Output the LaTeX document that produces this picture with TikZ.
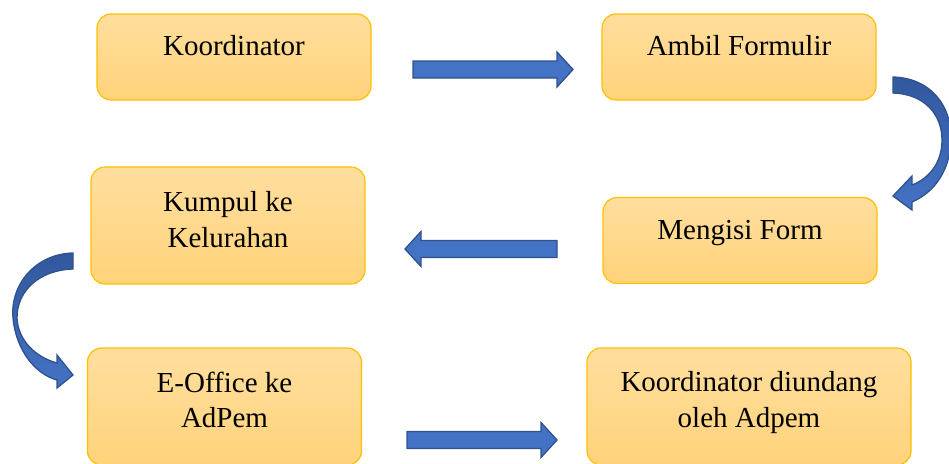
\documentclass[tikz,border=0pt]{standalone}
\usepackage{fontspec}
\setmainfont{Liberation Serif}
\usetikzlibrary{calc}

\definecolor{boxtop}{RGB}{255,222,158}
\definecolor{boxbot}{RGB}{255,211,122}
\definecolor{boxline}{RGB}{255,192,0}
\definecolor{arrfill}{RGB}{68,114,196}
\definecolor{arrdark}{RGB}{50,88,158}
\definecolor{arrline}{RGB}{47,82,143}

% straight block arrow from #1 to #2 (horizontal)
\newcommand{\blockarr}[2]{%
  \path[barrow] let \p1=(#1), \p2=(#2), \p3=($(#2)!16pt!(#1)$) in
    (\x1,\y1+8.5pt) -- (\x3,\y1+8.5pt) -- (\x3,\y1+17.5pt) -- (\x2,\y2)
    -- (\x3,\y1-17.5pt) -- (\x3,\y1-8.5pt) -- (\x1,\y1-8.5pt) -- cycle;}

\begin{document}
\begin{tikzpicture}[x=1pt, y=-1pt,
  box/.style={rectangle, rounded corners=14pt, draw=boxline, line width=1.2pt,
    top color=boxtop, bottom color=boxbot,
    minimum width=274pt, minimum height=86pt, inner sep=0pt},
  txt/.style={anchor=north, inner sep=0pt, align=center,
    font=\fontsize{29pt}{35.5pt}\selectfont},
  barrow/.style={fill=arrfill, draw=arrline, line width=1.3pt, line join=miter},
  carrow/.style={top color=arrdark, bottom color=arrfill, draw=arrline, line width=1.3pt}]

\useasboundingbox (0,0) rectangle (949,463);
\clip (0,0) rectangle (949,463);

% boxes
\node (k1) [box] at (234,57) {};
\node (k2) [box] at (739,57) {};
\node (k3) [box, minimum height=117pt] at (228,225.5) {};
\node (k4) [box] at (740,240.5) {};
\node (k5) [box, minimum height=117pt] at (224.5,406.5) {};
\node (k6) [box, minimum height=117pt, minimum width=324pt] at (749,406.5) {};

% texts
\node (t1) [txt] at ([yshift=-22pt]k1.north) {Koordinator};
\node (t2) [txt] at ([yshift=-22pt]k2.north) {Ambil Formulir};
\node (t3) [txt] at ([yshift=-25pt]k3.north) {Kumpul ke\\Kelurahan};
\node (t4) [txt] at ([yshift=-23pt]k4.north) {Mengisi Form};
\node (t5) [txt] at ([yshift=-24pt]k5.north) {E-Office ke\\AdPem};
\node (t6) [txt] at ([yshift=-24pt]k6.north) {Koordinator diundang\\oleh Adpem};

% straight arrows
\coordinate (a1s) at (413,69.5);
\coordinate (a1e) at (573,69.5);
\coordinate (a2s) at (557,249);
\coordinate (a2e) at (405,249);
\coordinate (a3s) at (407,440);
\coordinate (a3e) at (557,440);
\blockarr{a1s}{a1e}
\blockarr{a2s}{a2e}
\blockarr{a3s}{a3e}

% curved arrows
\path[carrow] (893,77) .. controls (930,78) and (952,105) .. (951,140)
  .. controls (950,170) and (935,192) .. (912,202)
  -- (912,210) -- (893,196) -- (912,176) -- (912,185)
  .. controls (930,178) and (942,162) .. (942,140)
  .. controls (942,115) and (925,94) .. (893,93) -- cycle;
\path[carrow] (73,253) .. controls (35,254) and (10,285) .. (13,318)
  .. controls (16,350) and (35,374) .. (57,380)
  -- (57,388) -- (73,375) -- (57,355) -- (57,363)
  .. controls (35,357) and (18,340) .. (17,318)
  .. controls (17,290) and (40,270) .. (73,269) -- cycle;
\end{tikzpicture}
\end{document}
